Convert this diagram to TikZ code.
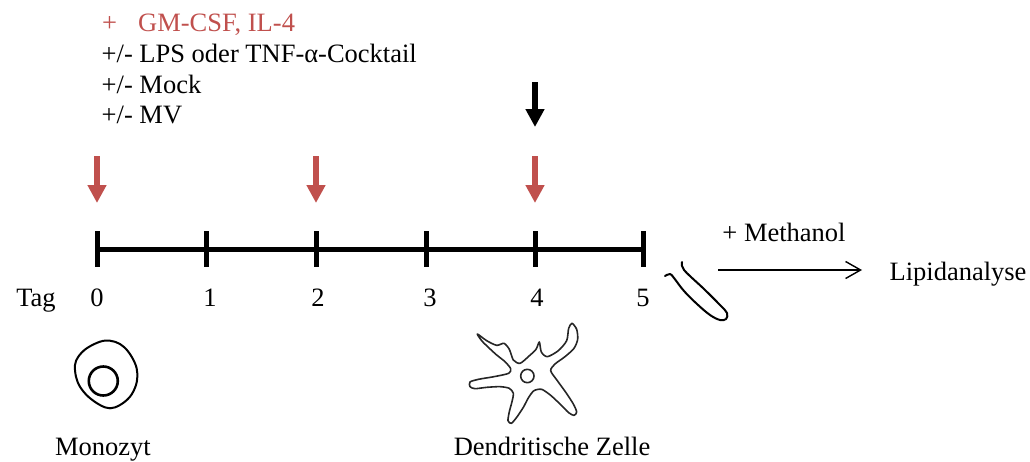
\documentclass[tikz,border=0pt]{standalone}
\usepackage{fontspec}
\setmainfont{Liberation Serif}
\usetikzlibrary{arrows.meta}
\definecolor{cytred}{HTML}{C0504D}
\begin{document}
\begin{tikzpicture}[x=1pt,y=-1pt,
  lbl/.style={inner sep=0pt, font=\fontsize{26.5}{30}\selectfont},
  axisline/.style={line width=5pt},
  daytick/.style={line width=5pt},
  addarrow/.style={line width=6pt, -{Triangle[width=18pt,length=18pt]}},
  procarrow/.style={line width=1.4pt, -{Straight Barb[length=15pt,width=17pt,line width=1.4pt]}},
  cellline/.style={line width=2pt, line join=round, line cap=round}]
\useasboundingbox (0,0) rectangle (1030,461);

% treatment list
\node[lbl, anchor=base west, text=cytred] (cyt) at (102,31.5) {+\hspace{21pt}GM-CSF, IL-4};
\node[lbl, anchor=base west] (stim) at (101.5,62.5) {+/- LPS oder TNF-α-Cocktail};
\node[lbl, anchor=base west] (mock) at (101.5,93) {+/- Mock};
\node[lbl, anchor=base west] (mv)   at (101.5,123.5) {+/- MV};

% time axis with day ticks
\foreach \i/\x in {0/97,1/206,2/316,3/426,4/535,5/643} {
  \coordinate (d\i) at (\x,249);
  \coordinate (t\i) at (\x,231);
  \coordinate (b\i) at (\x,267);
  \draw[daytick] (t\i) -- (b\i);
}
\draw[axisline] (d0) -- (d5);

% day labels
\node[lbl, anchor=base] (tag) at (36,306.5) {Tag};
\foreach \i/\x in {0/97,1/210,2/318,3/430,4/537,5/643} {
  \node[lbl, anchor=base] (n\i) at (\x,306.5) {\i};
}

% cytokine additions (days 0, 2, 4) and stimulation (day 4)
\foreach \x [count=\k] in {97,316,535} {
  \coordinate (rs\k) at (\x,156);
  \coordinate (re\k) at (\x,203);
  \draw[addarrow, cytred] (rs\k) -- (re\k);
}
\coordinate (ks) at (535,82);
\coordinate (ke) at (535,127);
\draw[addarrow, black] (ks) -- (ke);

% harvest and lipid analysis
\node[lbl, anchor=base] (meoh) at (784,241) {+ Methanol};
\node[lbl, anchor=base] (lip) at (958,280) {Lipidanalyse};
\coordinate (ps) at (718,270);
\coordinate (pe) at (862,270);
\draw[procarrow] (ps) -- (pe);

% pipette tip
\draw[cellline] plot[smooth, tension=0.6] coordinates {
  (665,276) (670,274) (674,278) (684,291) (697,304) (710,315)
  (720,320) (726,319) (727,313) (720,305) (704,289) (691,277)
  (684,270) (682,266) (682,262)};

% monocyte
\draw[cellline] plot[smooth cycle, tension=0.6] coordinates {
  (110,340.7) (100,341.7) (86.7,348.3) (78.3,356.7) (75,365) (76,376.7)
  (80,386.7) (88.3,396.7) (100,405) (110,408.3) (120,405) (130,396.7)
  (136,385) (137.3,373.3) (135,363.3) (128.3,351.7) (120,344)};
\draw[line width=2.6pt] (103.3,381) circle[radius=14.5];
\node[lbl, anchor=base] (mono) at (103,455) {Monozyt};

% dendritic cell
\begin{scope}[shift={(450,310)}, scale=1/3]
  \draw[line width=1.6pt, line join=round, draw=black!85] plot[smooth cycle, tension=0.45] coordinates {
    (82,72) (110,92) (140,106) (162,100) (178,118) (190,150) (210,160)
    (235,140) (258,118) (268,96) (274,126) (292,140) (325,122) (350,92)
    (356,55) (366,40) (380,58) (383,88) (372,115) (345,140) (315,162)
    (302,182) (322,212) (348,248) (370,282) (380,306) (372,316) (356,308)
    (330,282) (302,256) (275,238) (252,242) (236,262) (220,292) (200,322)
    (184,340) (174,332) (178,305) (186,275) (190,250) (178,235) (150,230)
    (110,232) (75,236) (60,230) (60,216) (85,208) (132,200) (176,190)
    (182,176) (165,155) (140,135) (115,112) (95,92)};
  \draw[line width=1.6pt, draw=black!85] (232,198) circle[radius=20];
\end{scope}
\node[lbl, anchor=base] (dc) at (552,455) {Dendritische Zelle};
\end{tikzpicture}
\end{document}
